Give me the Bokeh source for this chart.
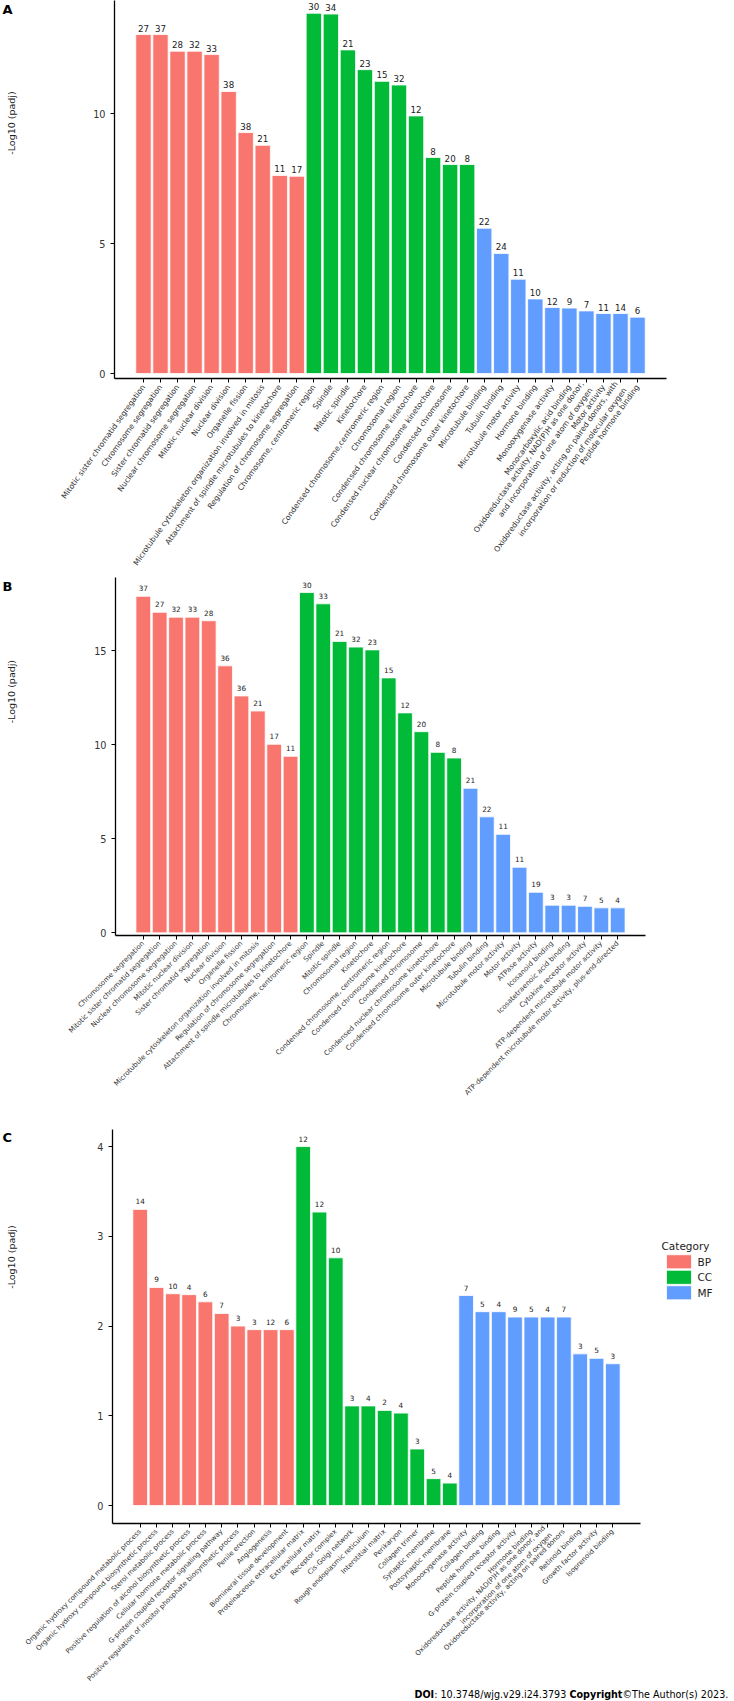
import math
from bokeh.plotting import figure
from bokeh.models import ColumnDataSource, FactorRange, Range1d, FixedTicker
from bokeh.layouts import column, row
from bokeh.embed import file_html
from bokeh.resources import INLINE
from bokeh.core.properties import value

# ---------------- Panel A ----------------
a_bp_terms = ["Mitotic sister chromatid segregation", "Chromosome segregation",
              "Sister chromatid segregation", "Nuclear chromosome segregation",
              "Mitotic nuclear division", "Nuclear division", "Organelle fission",
              "Microtubule cytoskeleton organization involved in mitosis",
              "Attachment of spindle microtubules to kinetochore",
              "Regulation of chromosome segregation"]
a_bp_vals = [13.04, 13.04, 12.40, 12.40, 12.27, 10.85, 9.27, 8.78, 7.62, 7.59]
a_bp_counts = [27, 37, 28, 32, 33, 38, 38, 21, 11, 17]

a_cc_terms = ["Chromosome, centromeric region", "Spindle", "Mitotic spindle", "Kinetochore",
              "Condensed chromosome,centromeric region", "Chromosomal region",
              "Condensed chromosome kinetochore", "Condensed nuclear chromosome kinetochore",
              "Condensed chromosome", "Condensed chromosome outer kinetochore"]
a_cc_vals = [13.86, 13.83, 12.45, 11.69, 11.24, 11.10, 9.91, 8.31, 8.04, 8.04]
a_cc_counts = [30, 34, 21, 23, 15, 32, 12, 8, 20, 8]

a_mf_terms = ["Microtubule binding", "Tubulin binding", "Microtubule motor activity",
              "Hormone binding", "Monooxygenase activity", "Monocarboxylic acid binding",
              "Oxidoreductase activity, NAD(P)H as one donor,\nand incorporation of one atom of oxygen",
              "Motor activity",
              "Oxidoreductase activity, acting on paired donors, with\nincorporation or reduction of molecular oxygen",
              "Peptide hormone binding"]
a_mf_vals = [5.59, 4.62, 3.63, 2.87, 2.54, 2.52, 2.41, 2.31, 2.31, 2.17]
a_mf_counts = [22, 24, 11, 10, 12, 9, 7, 11, 14, 6]

# ---------------- Panel B ----------------
b_bp_terms = ["Chromosome segregation", "Mitotic sister chromatid segregation",
              "Nuclear chromosome segregation", "Mitotic nuclear division",
              "Sister chromatid segregation", "Nuclear division", "Organelle fission",
              "Microtubule cytoskeleton organization involved in mitosis",
              "Regulation of chromosome segregation",
              "Attachment of spindle microtubules to kinetochore"]
b_bp_vals = [17.90, 17.05, 16.79, 16.79, 16.60, 14.20, 12.60, 11.80, 10.03, 9.39]
b_bp_counts = [37, 27, 32, 33, 28, 36, 36, 21, 17, 11]

b_cc_terms = ["Chromosome, centromeric region", "Spindle", "Mitotic spindle", "Chromosomal region",
              "Kinetochore", "Condensed chromosome, centromeric region",
              "Condensed chromosome kinetochore", "Condensed chromosome",
              "Condensed nuclear chromosome kinetochore", "Condensed chromosome outer kinetochore"]
b_cc_vals = [18.10, 17.50, 15.50, 15.20, 15.05, 13.56, 11.70, 10.70, 9.60, 9.30]
b_cc_counts = [30, 33, 21, 32, 23, 15, 12, 20, 8, 8]

b_mf_terms = ["Microtubule binding", "Tubulin binding", "Microtubule motor activity",
              "Motor activity", "ATPase activity", "Icosanoid binding",
              "Icosatetraenoic acid binding", "Cytokine receptor activity",
              "ATP-dependent microtubule motor activity",
              "ATP-dependent microtubule motor activity, plus-end-directed"]
b_mf_vals = [7.69, 6.17, 5.24, 3.49, 2.16, 1.47, 1.47, 1.41, 1.33, 1.33]
b_mf_counts = [21, 22, 11, 11, 19, 3, 3, 7, 5, 4]

# ---------------- Panel C ----------------
c_bp_terms = ["Organic hydroxy compound metabolic process",
              "Organic hydroxy compound biosynthetic process", "Sterol metabolic process",
              "Positive regulation of alcohol biosynthetic process",
              "Cellular hormone metabolic process",
              "G-protein coupled receptor signaling pathway",
              "Positive regulation of inositol phosphate biosynthetic process",
              "Penile erection", "Angiogenesis", "Biomineral tissue development"]
c_bp_vals = [3.30, 2.43, 2.36, 2.35, 2.27, 2.14, 2.00, 1.96, 1.96, 1.96]
c_bp_counts = [14, 9, 10, 4, 6, 7, 3, 3, 12, 6]

c_cc_terms = ["Proteinaceous extracellular matrix", "Extracellular matrix", "Receptor complex",
              "Cis-Golgi network", "Rough endoplasmic reticulum", "Interstitial matrix",
              "Perikaryon", "Collagen trimer", "Synaptic membrane", "Postsynaptic membrane"]
c_cc_vals = [4.00, 3.27, 2.76, 1.11, 1.11, 1.06, 1.03, 0.63, 0.30, 0.25]
c_cc_counts = [12, 12, 10, 3, 4, 2, 4, 3, 5, 4]

c_mf_terms = ["Monooxygenase activity", "Collagen binding", "Peptide hormone binding",
              "G-protein coupled receptor activity", "Hormone binding",
              "Oxidoreductase activity, NAD(P)H as one donor, and\nincorporation of one atom of oxygen",
              "Oxidoreductase activity, acting on paired donors", "Retinoid binding",
              "Growth factor activity", "Isoprenoid binding"]
c_mf_vals = [2.34, 2.16, 2.16, 2.10, 2.10, 2.10, 2.10, 1.69, 1.64, 1.58]
c_mf_counts = [7, 5, 4, 9, 5, 4, 7, 3, 5, 3]

categories = ["BP", "CC", "MF"]
colors = {"BP": "#F8766D", "CC": "#00BA38", "MF": "#619CFF"}
y_title = "-Log10 (padj)"
panel_letters = ["A", "B", "C"]
legend_title = "Category"
doi_parts = ["DOI", ": 10.3748/wjg.v29.i24.3793 ", "Copyright", " \u00a9The Author(s) 2023."]

FONT = "DejaVu Sans"
SIDE_W = 22
TOTAL_W = 734


def blank_fig(w, h):
    f = figure(width=w, height=h, x_range=Range1d(0, w), y_range=Range1d(0, h),
               x_axis_type=None, y_axis_type=None, output_backend="svg",
               toolbar_location=None, min_border_left=0, min_border_right=0,
               min_border_top=0, min_border_bottom=0)
    f.outline_line_color = None
    f.background_fill_color = "white"
    f.border_fill_color = "white"
    return f


def side_fig(letter, height, letter_top, title_center):
    f = blank_fig(SIDE_W, height)
    f.text(x=[2], y=[height - letter_top], text=[letter], text_font=value(FONT),
           text_font_style="bold", text_font_size="13px", text_baseline="top",
           text_align="left", text_color="black")
    f.text(x=[10.5], y=[height - title_center], text=[y_title], text_font=value(FONT),
           text_font_size="9.5px", text_baseline="middle", text_align="center",
           angle=math.pi / 2, text_color="#222222")
    return f


def make_panel(data, yr, ticks, width, height, bottom, left, right,
               angle_deg, xlab_size, count_size, count_off):
    factors = []
    for terms, _, _ in data:
        factors += terms
    p = figure(width=width, height=height,
               x_range=FactorRange(factors=factors, range_padding=1.2,
                                   range_padding_units="absolute"),
               y_range=Range1d(*yr), output_backend="svg", toolbar_location=None,
               min_border_top=0, min_border_bottom=bottom,
               min_border_left=left, min_border_right=right)
    p.background_fill_color = "white"
    p.border_fill_color = "white"
    p.outline_line_color = None
    p.xgrid.grid_line_color = None
    p.ygrid.grid_line_color = None

    for cat, (terms, vals, counts) in zip(categories, data):
        src = ColumnDataSource(dict(x=terms, top=vals, lab=[str(c) for c in counts]))
        p.vbar(x="x", top="top", bottom=0, width=0.9, source=src,
               fill_color=colors[cat], line_color="white", line_width=0.8)
        p.text(x="x", y="top", text="lab", source=src, text_align="center",
               text_baseline="bottom", y_offset=count_off, text_font_size=count_size,
               text_color="#222222", text_font=value(FONT))

    for ax in (p.xaxis[0], p.yaxis[0]):
        ax.axis_line_color = "black"
        ax.axis_line_width = 1.3
        ax.major_tick_line_color = "black"
        ax.major_tick_line_width = 1
        ax.major_tick_out = 4
        ax.major_tick_in = 0
        ax.minor_tick_line_color = None
        ax.major_label_text_font = FONT
        ax.major_label_text_color = "#333333"

    p.xaxis.major_label_orientation = math.radians(angle_deg)
    p.xaxis.major_label_text_font_size = xlab_size
    p.xaxis.major_label_standoff = 3

    p.yaxis.ticker = FixedTicker(ticks=ticks)
    p.yaxis.major_label_text_font_size = "9.7px"
    p.yaxis.major_label_standoff = 5
    return p


MAIN_W = TOTAL_W - SIDE_W

# ---- A : canvas 0..577, frame 0..378 ----
hA = 577
pA = make_panel([(a_bp_terms, a_bp_vals, a_bp_counts),
                 (a_cc_terms, a_cc_vals, a_cc_counts),
                 (a_mf_terms, a_mf_vals, a_mf_counts)],
                (-0.19, 14.35), [0, 5, 10], MAIN_W, hA, 199, 92, 68,
                54.5, "7.65px", "8.7px", -3)
sA = side_fig(panel_letters[0], hA, 3, 187)

# ---- B : canvas 577..1129, frame 577..935 ----
hB = 552
pB = make_panel([(b_bp_terms, b_bp_vals, b_bp_counts),
                 (b_cc_terms, b_cc_vals, b_cc_counts),
                 (b_mf_terms, b_mf_vals, b_mf_counts)],
                (-0.14, 18.9), [0, 5, 10, 15], MAIN_W, hB, 194, 93, 89,
                45, "7px", "7.3px", -5)
sB = side_fig(panel_letters[1], hB, 3, 176)

# ---- C : canvas 1129..1688, frame 1129..1526 ----
hC = 559
pC_w = 620
pC = make_panel([(c_bp_terms, c_bp_vals, c_bp_counts),
                 (c_cc_terms, c_cc_vals, c_cc_counts),
                 (c_mf_terms, c_mf_vals, c_mf_counts)],
                (-0.2, 4.19), [0, 1, 2, 3, 4], pC_w, hC, 162, 90, 2,
                45, "6.9px", "7.3px", -5)
sC = side_fig(panel_letters[2], hC, 0, 181)

# legend key drawn in its own small figure to the right of panel C
leg_w = TOTAL_W - SIDE_W - pC_w
lf = blank_fig(leg_w, hC)
key_top = hC - 177.7
key_h, key_pitch = 20.0, 22.0
key_src = ColumnDataSource(dict(
    left=[24.0] * 3, right=[49.0] * 3,
    top=[key_top - i * key_pitch for i in range(3)],
    bottom=[key_top - i * key_pitch - key_h for i in range(3)],
    mid=[key_top - i * key_pitch - key_h / 2 for i in range(3)],
    color=[colors[c] for c in categories], label=categories))
lf.quad(left="left", right="right", top="top", bottom="bottom", source=key_src,
        fill_color="color", line_color="white", line_width=0.8)
lf.text(x=55, y="mid", text="label", source=key_src, text_font=value(FONT),
        text_font_size="10.5px", text_baseline="middle", text_align="left",
        text_color="#222222")
lf.text(x=[19], y=[hC - 157], text=[legend_title], text_font=value(FONT),
        text_font_size="10.5px", text_baseline="top", text_align="left",
        text_color="#222222")

# DOI line
doi = blank_fig(TOTAL_W, 12)
doi_x = [414.0, 433.7, 568.9, 622.0]
doi_style = ["bold", "normal", "bold", "normal"]
for txt, xx, st in zip(doi_parts, doi_x, doi_style):
    doi.text(x=[xx], y=[6], text=[txt], text_font=value(FONT), text_font_style=st,
             text_font_size="9.6px", text_baseline="middle", text_align="left",
             text_color="black")

layout = column(row(sA, pA), row(sB, pB), row(sC, pC, lf), doi)
open("out.html", "w").write(file_html(layout, INLINE))
